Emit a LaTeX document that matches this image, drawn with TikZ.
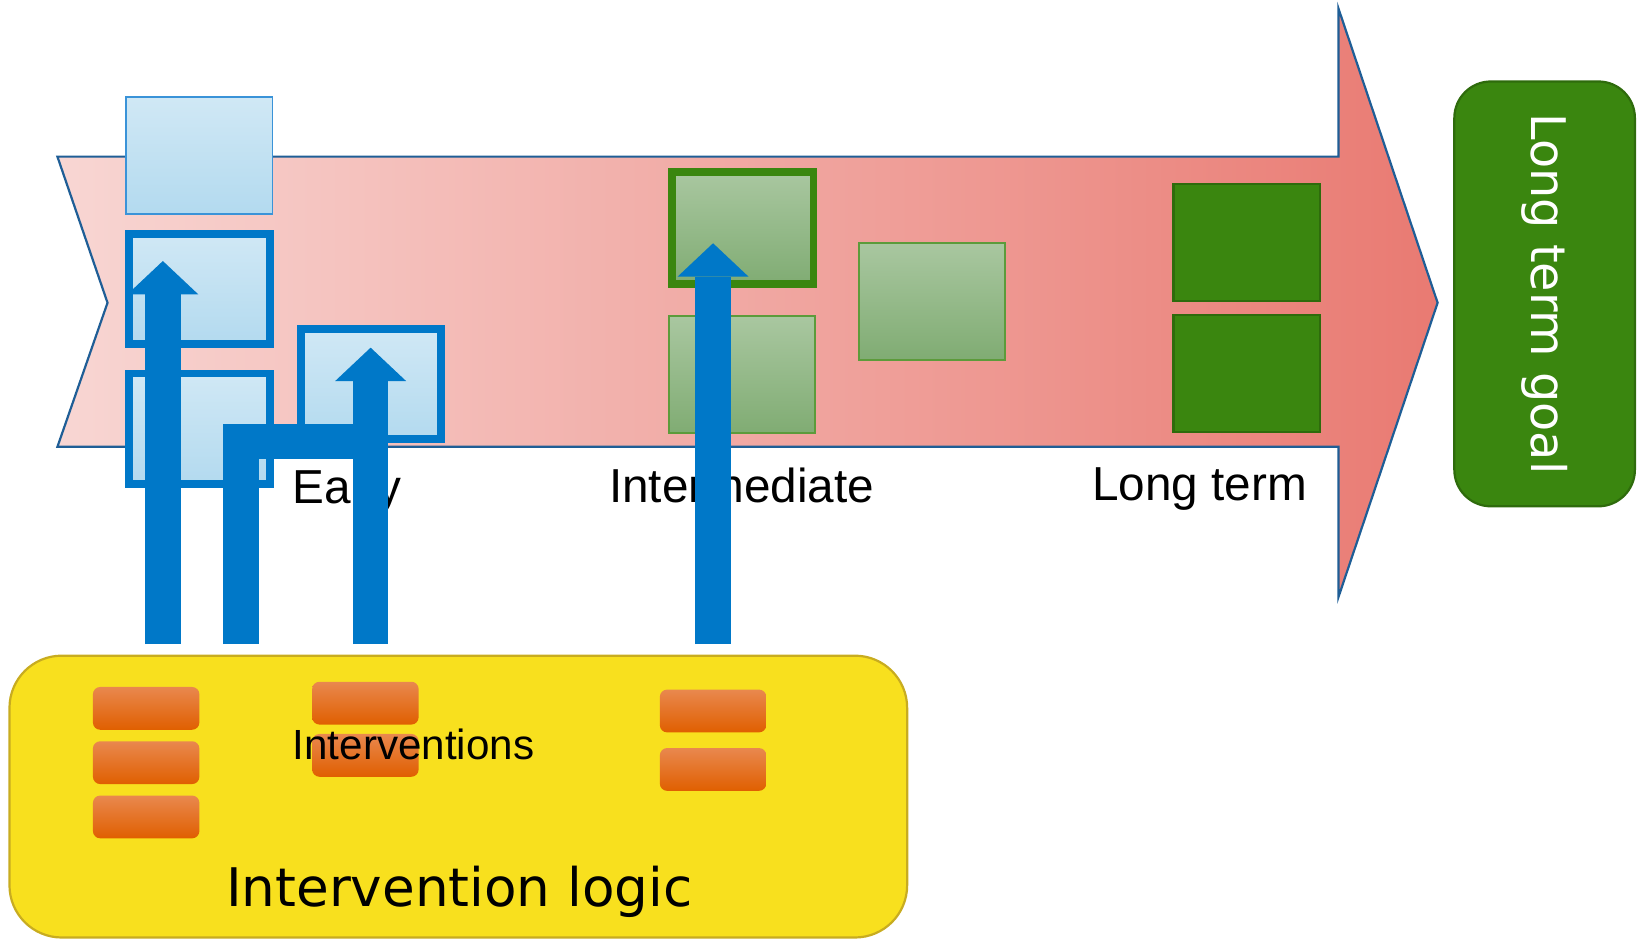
\documentclass[tikz,border=0pt]{standalone}
\usepackage{fontspec}
\setmainfont{Liberation Sans}
\newfontfamily\verdanafont{DejaVu Sans}
\usetikzlibrary{positioning,arrows.meta}

\definecolor{bandlight}{HTML}{F8D6D3}
\definecolor{banddark}{HTML}{E97A72}
\definecolor{bandline}{HTML}{1F5E96}
\definecolor{skytop}{HTML}{D0E8F5}
\definecolor{skybot}{HTML}{B3DAEF}
\definecolor{skyline}{HTML}{3A93D8}
\definecolor{arrblue}{HTML}{0078C8}
\definecolor{sagetop}{HTML}{A9C7A0}
\definecolor{sagebot}{HTML}{80AC73}
\definecolor{sageline}{HTML}{5C9B3B}
\definecolor{leaf}{HTML}{3A860F}
\definecolor{leafline}{HTML}{2E6B0C}
\definecolor{lemon}{HTML}{F8E01E}
\definecolor{lemonline}{HTML}{C8AC20}
\definecolor{ambertop}{HTML}{E9884E}
\definecolor{ambermid}{HTML}{EA6E00}
\definecolor{amberbot}{HTML}{E05F00}

\begin{document}
\begin{tikzpicture}[x=0.02cm, y=-0.02cm,
  smallbox/.style={rectangle, inner sep=0pt, minimum width=2.8cm, minimum height=2.24cm},
  earlybox/.style={smallbox, draw=skyline, line width=1pt, top color=skytop, bottom color=skybot},
  earlyhit/.style={earlybox, draw=arrblue, line width=0.15cm, minimum width=2.69cm, minimum height=2.11cm},
  midbox/.style={smallbox, draw=sageline, line width=1pt, top color=sagetop, bottom color=sagebot},
  midhit/.style={midbox, draw=leaf, line width=0.15cm, minimum width=2.71cm, minimum height=2.15cm},
  latebox/.style={smallbox, draw=leafline, line width=1.2pt, fill=leaf},
  stagelbl/.style={font=\fontsize{26}{30}\selectfont, anchor=base west, inner sep=0pt},
  actbox/.style={rectangle, rounded corners=0.14cm, minimum width=2.04cm, minimum height=0.82cm,
    top color=ambertop, middle color=ambermid, bottom color=amberbot},
  liftarrow/.style={draw=arrblue, line width=0.68cm,
    -{Triangle[length=0.64cm, width=1.36cm, line width=0pt]}}
]
  \useasboundingbox (0,0) rectangle (1568,900);

  % time band
  \path[draw=bandline, line width=1.2pt, left color=bandlight, right color=banddark]
    (55,150) -- (1282,150) -- (1282,8) -- (1377,290) -- (1282,572) -- (1282,428)
    -- (55,428) -- (103,290) -- cycle;

  % outcomes
  \node (eb0) [earlybox] at (191,149) {};
  \node (eb1) [earlyhit] at (191,276.5) {};
  \node (eb2) [earlyhit] at (191,410.5) {};
  \node (eb3) [earlyhit] at (355.5,367.5) {};
  \node (im1) [midhit] at (711.5,218.5) {};
  \node (im2) [midbox] at (711,359) {};
  \node (im3) [midbox] at (893,288.5) {};
  \node (lt1) [latebox] at (1194,232.5) {};
  \node (lt2) [latebox] at (1194,357.5) {};

  \node (early) [stagelbl] at (280,482) {Early};
  \node (inter) [stagelbl] at (583,481) {Intermediate};
  \node (long) [stagelbl] at (1046,479) {Long term};

  \node (goal) [rectangle, rotate=-90, rounded corners=0.7cm, minimum width=8.14cm,
    minimum height=3.46cm, fill=leaf, draw=leafline, line width=1.2pt, text=white,
    font=\verdanafont\fontsize{26}{30}\selectfont] at (1479.5,281.5) {Long term goal};

  % interventions
  \node (logic) [rectangle, rounded corners=1cm, minimum width=17.2cm, minimum height=5.4cm,
    fill=lemon, draw=lemonline, line width=1.2pt] at (439,763) {};
  \node (a1) [actbox] at (140,678.5) {};
  \node (a2) [actbox] at (140,730.5) {};
  \node (a3) [actbox] at (140,782.5) {};
  \node (b1) [actbox] at (350,673.5) {};
  \node (b2) [actbox] at (350,723.5) {};
  \node (c1) [actbox] at (683,681) {};
  \node (c2) [actbox] at (683,737) {};
  \node (intv) [anchor=base west, inner sep=0pt, font=\fontsize{23}{27}\selectfont]
    at (280,727) {Interventions};
  \node (logiclbl) [anchor=base, inner sep=0pt, font=\verdanafont\fontsize{29}{34}\selectfont]
    at (440,868) {Intervention logic};

  % links
  \coordinate (s1) at (156,617);
  \coordinate (s2) at (355,617);
  \coordinate (s3) at (683,617);
  \coordinate (s4) at (231,617);
  \coordinate (t1) at (156,250);
  \coordinate (t2) at (355,333);
  \coordinate (t3) at (683,233);
  \coordinate (t4) at (355,423);

  \draw[draw=arrblue, line width=0.68cm, line join=miter] (s4) |- (t4);
  \draw[liftarrow] (s1) -- (t1);
  \draw[liftarrow] (s2) -- (t2);
  \draw[liftarrow] (s3) -- (t3);
\end{tikzpicture}
\end{document}
